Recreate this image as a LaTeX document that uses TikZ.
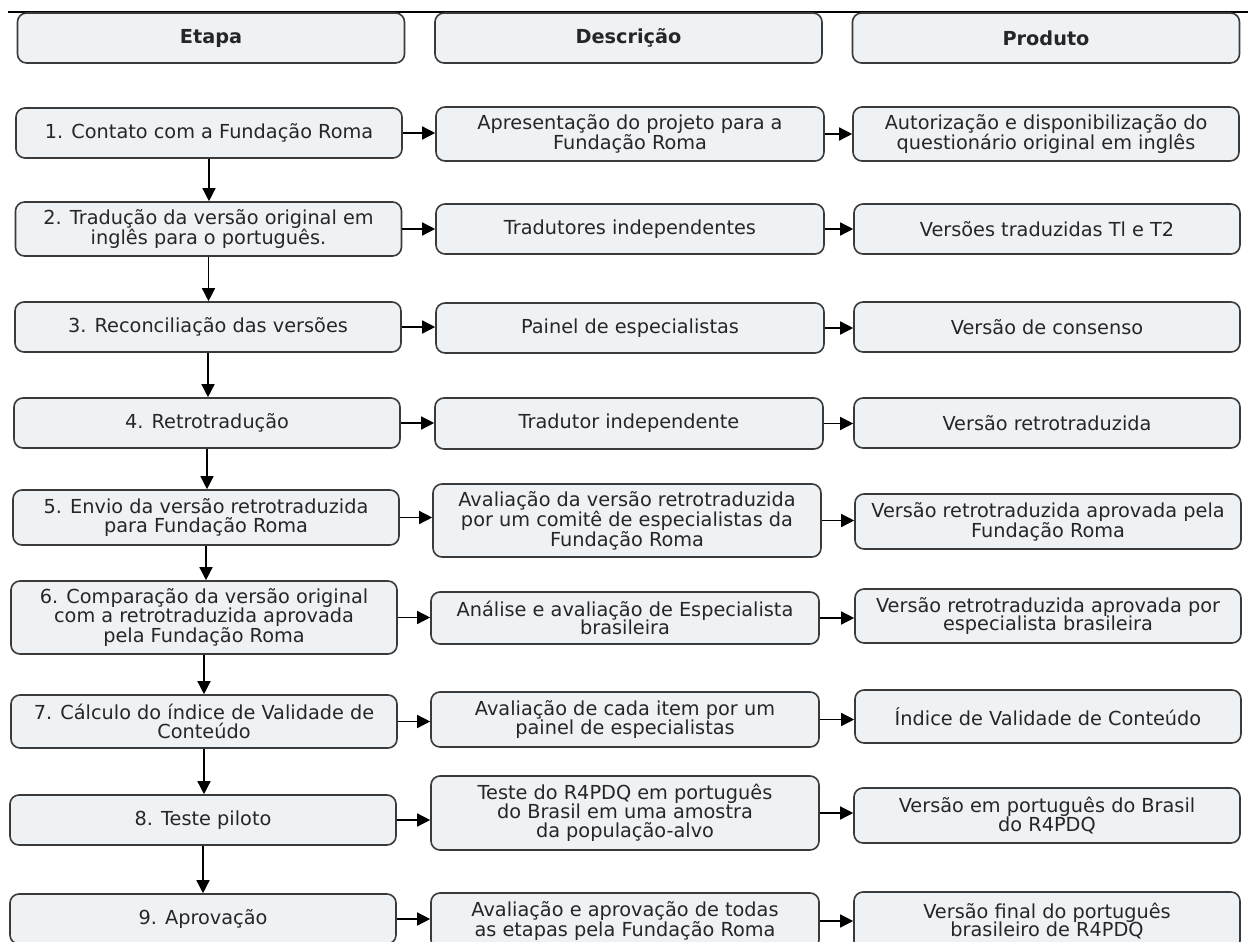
\documentclass[tikz,border=0pt]{standalone}
\usepackage{fontspec}
\setmainfont{DejaVu Sans}
\usetikzlibrary{arrows.meta,calc}
\definecolor{boxfill}{HTML}{EEF2F5}
\definecolor{boxline}{HTML}{3A3A3A}
\definecolor{txt}{HTML}{262626}
\begin{document}
\begin{tikzpicture}[x=1pt,y=-1pt,
  box/.style={draw=boxline, fill=boxfill, line width=1.6pt, rounded corners=9pt,
    align=center, inner sep=0pt, text=txt, font=\fontsize{19.3}{18.8}\selectfont},
  ecol/.style={box, minimum width=386pt},
  dcol/.style={box, minimum width=388pt},
  pcol/.style={box, minimum width=386pt},
  head/.style={box, font=\fontsize{19.3}{18.8}\selectfont\bfseries, minimum height=50pt, minimum width=387pt},
  arr/.style={-{Triangle[length=13pt,width=13pt]}, line width=1.4pt, draw=black}
]
\useasboundingbox (0,0) rectangle (1248,942);
\clip (0,0) rectangle (1248,942);
\fill[white] (0,0) rectangle (1248,942);
\draw[line width=2pt, black] (8,12) -- (1248,12);

% headers
\node[head] (hE) at (211,38) {Etapa};
\node[head] (hD) at (628.5,38) {Descrição};
\node[head] (hP) at (1046,38) {Produto};

% row 1
\node[ecol, minimum height=50pt] (E1) at (209,133) {1. Contato com a Fundação Roma};
\node[dcol, minimum height=54pt] (D1) at (630,134) {Apresentação do projeto para a\\Fundação Roma};
\node[pcol, minimum height=54pt] (P1) at (1046,134) {Autorização e disponibilização do\\questionário original em inglês};
% row 2
\node[ecol, minimum height=54pt] (E2) at (208.5,229) {2. Tradução da versão original em\\inglês para o português.};
\node[dcol, minimum height=50pt] (D2) at (630,229) {Tradutores independentes};
\node[pcol, minimum height=50pt] (P2) at (1047,229) {Versões traduzidas Tl e T2};
% row 3
\node[ecol, minimum height=50pt] (E3) at (208,327) {3. Reconciliação das versões};
\node[dcol, minimum height=50pt] (D3) at (630,328) {Painel de especialistas};
\node[pcol, minimum height=50pt] (P3) at (1047,327) {Versão de consenso};
% row 4
\node[ecol, minimum height=50pt] (E4) at (207,423) {4. Retrotradução};
\node[dcol, minimum height=51pt] (D4) at (629,423.5) {Tradutor independente};
\node[pcol, minimum height=50pt] (P4) at (1047,423) {Versão retrotraduzida};
% row 5
\node[ecol, minimum height=55pt] (E5) at (206,517.5) {5. Envio da versão retrotraduzida\\para Fundação Roma};
\node[dcol, minimum height=73pt] (D5) at (627,520.5) {Avaliação da versão retrotraduzida\\por um comitê de especialistas da\\Fundação Roma};
\node[pcol, minimum height=55pt] (P5) at (1048,521.5) {Versão retrotraduzida aprovada pela\\Fundação Roma};
% row 6
\node[ecol, minimum height=73pt] (E6) at (204,617.5) {6. Comparação da versão original\\com a retrotraduzida aprovada\\pela Fundação Roma};
\node[dcol, minimum height=52pt] (D6) at (625,618) {Análise e avaliação de Especialista\\brasileira};
\node[pcol, minimum height=54pt] (P6) at (1048,616) {Versão retrotraduzida aprovada por\\especialista brasileira};
% row 7
\node[ecol, minimum height=53pt] (E7) at (204,721.5) {7. Cálculo do índice de Validade de\\Conteúdo};
\node[dcol, minimum height=55pt] (D7) at (625,719.5) {Avaliação de cada item por um\\painel de especialistas};
\node[pcol, minimum height=53pt] (P7) at (1048,716.5) {Índice de Validade de Conteúdo};
% row 8
\node[ecol, minimum height=50pt] (E8) at (203,820) {8. Teste piloto};
\node[dcol, minimum height=74pt] (D8) at (625,813) {Teste do R4PDQ em português\\do Brasil em uma amostra\\da população-alvo};
\node[pcol, minimum height=55pt] (P8) at (1047,815.5) {Versão em português do Brasil\\do R4PDQ};
% row 9
\node[ecol, minimum height=50pt] (E9) at (203,919) {9. Aprovação};
\node[dcol, minimum height=56pt] (D9) at (625,921) {Avaliação e aprovação de todas\\as etapas pela Fundação Roma};
\node[pcol, minimum height=58pt] (P9) at (1047,921) {Versão final do português\\brasileiro de R4PDQ};

% connectors
\foreach \i in {1,...,9}{
  \draw[arr] (E\i.east) -- (E\i.east -| D\i.west);
  \draw[arr] (D\i.east) -- (D\i.east -| P\i.west);
}
\foreach \i/\j in {1/2,2/3,3/4,4/5,5/6,6/7,7/8,8/9}{
  \draw[arr] (E\i.south) -- (E\i.south |- E\j.north);
}
\end{tikzpicture}
\end{document}
